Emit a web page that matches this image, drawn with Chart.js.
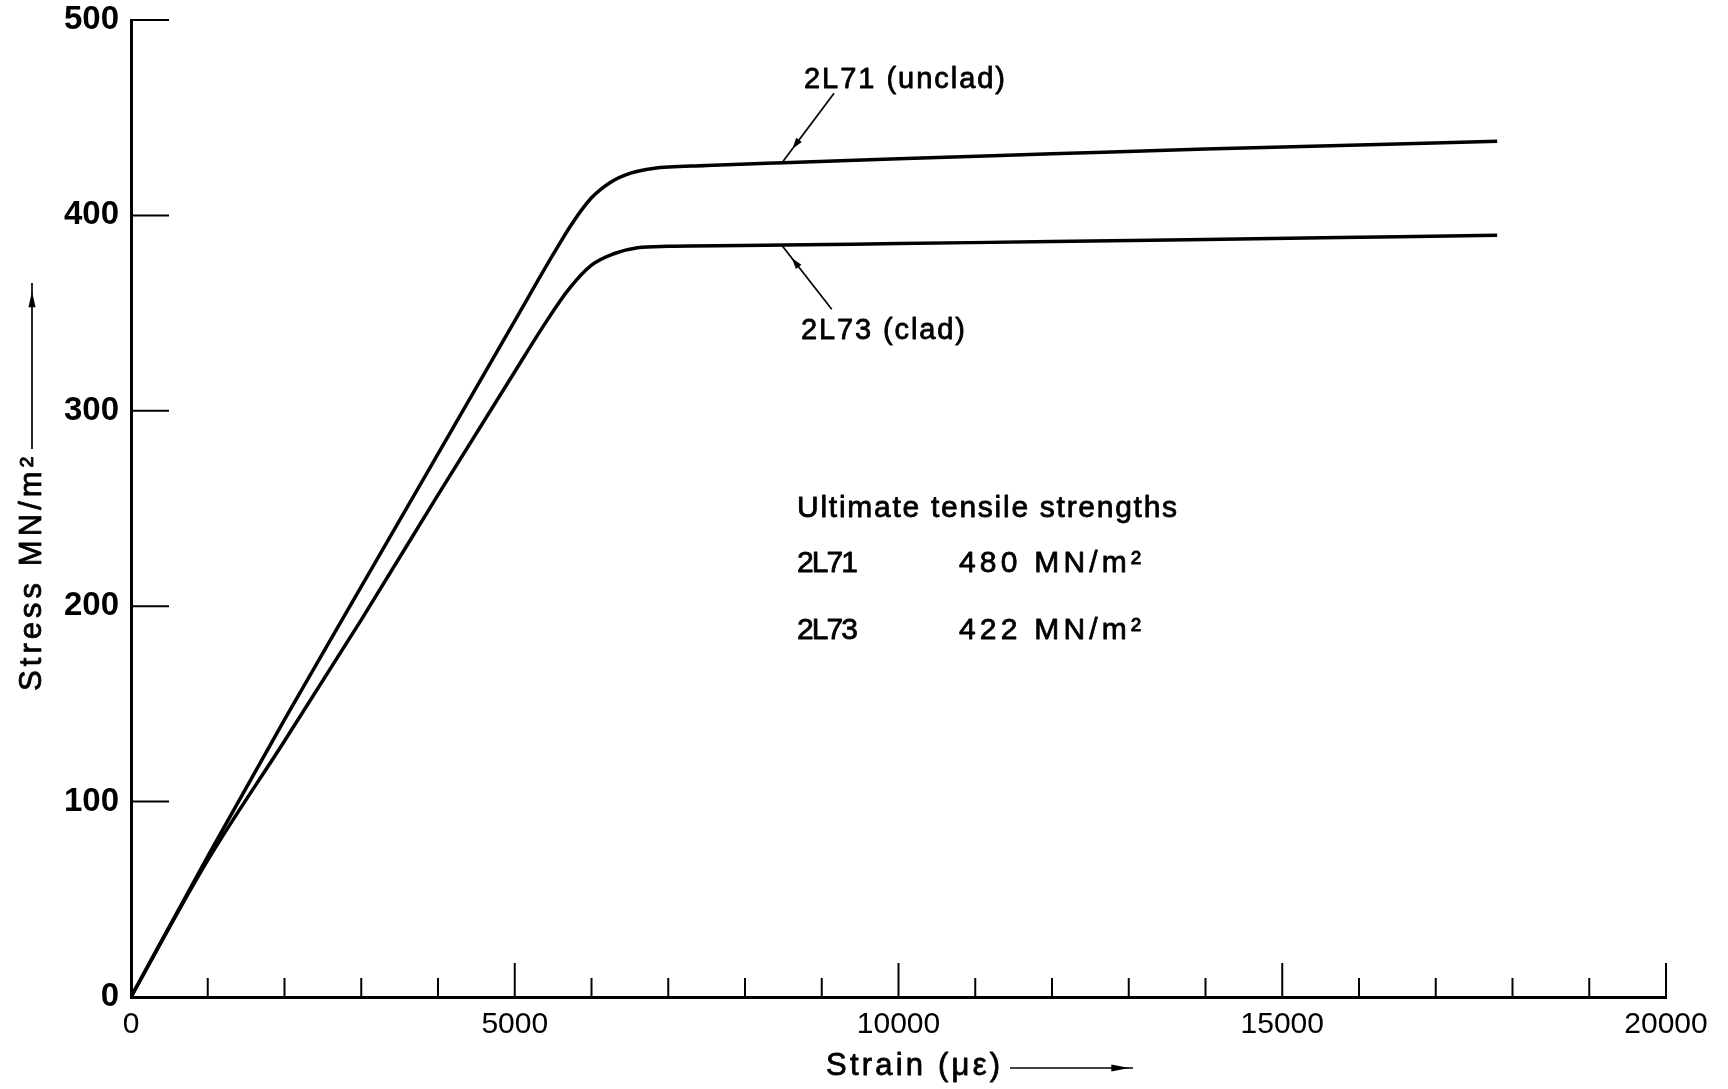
<!DOCTYPE html>
<html>
<head>
<meta charset="utf-8">
<script src="https://cdn.jsdelivr.net/npm/chart.js@4"></script>
<style>
  html, body { margin: 0; padding: 0; background: #fff; }
  #wrap { width: 1728px; height: 1089px; }
</style>
</head>
<body>
<div id="wrap"><canvas id="c" width="1728" height="1089"></canvas></div>
<script>
// ---------- data ----------
const xTickValues = [0, 5000, 10000, 15000, 20000];
const xMinorTicks = [1000,2000,3000,4000,5000,6000,7000,8000,9000,10000,11000,12000,13000,14000,15000,16000,17000,18000,19000,20000];
const yTickValues = [0, 100, 200, 300, 400, 500];

const unclad2L71Strain = [0, 1000, 2000, 3000, 4000, 5000, 5500, 5750, 6000, 6250, 6500, 6800, 7500, 8500, 10000, 12000, 14000, 16000, 17800];
const unclad2L71Stress = [0, 72, 142, 210, 278, 346, 380, 396, 409, 417, 421.5, 424, 425.5, 427, 429, 431.5, 434, 436, 438];

const clad2L73Strain = [0, 1000, 2000, 3000, 4000, 5000, 5400, 5700, 6000, 6300, 6600, 7000, 8500, 10000, 12000, 14000, 16000, 17800];
const clad2L73Stress = [0, 70, 131, 193, 257, 320, 345, 362, 374.5, 380.5, 383.5, 384.2, 384.8, 385.6, 386.6, 387.7, 388.8, 389.8];

const seriesNames = ['2L71 (unclad)', '2L73 (clad)'];
const utsTitle = 'Ultimate tensile strengths';
const utsNames = ['2L71', '2L73'];
const utsValues = ['480 MN/m²', '422 MN/m²'];
const xTitle = 'Strain (με)';
const yTitle = 'Stress MN/m²';

// ---------- helpers ----------
const FONT = '"Liberation Sans", Arial, sans-serif';
function toXY(xs, ys) { return xs.map((x, i) => ({ x: x, y: ys[i] })); }

function fitText(ctx, text, x, y, targetW, size) {
  ctx.font = 'normal ' + size + 'px ' + FONT;
  ctx.letterSpacing = '0px';
  const w = ctx.measureText(text).width;
  const n = Math.max(1, [...text].length - 1);
  const ls = (targetW - w) / n;
  ctx.letterSpacing = ls.toFixed(2) + 'px';
  ctx.lineWidth = 0.8;
  ctx.lineJoin = 'round';
  ctx.fillText(text, x, y);
  ctx.strokeText(text, x, y);
  ctx.letterSpacing = '0px';
}

function arrowHead(ctx, x1, y1, x2, y2, at, len, half) {
  const dx = x2 - x1, dy = y2 - y1, L = Math.hypot(dx, dy);
  const ux = dx / L, uy = dy / L;
  const tx = x1 + dx * at, ty = y1 + dy * at;
  const bx = tx - ux * len, by = ty - uy * len;
  ctx.beginPath();
  ctx.moveTo(tx, ty);
  ctx.lineTo(bx - uy * half, by + ux * half);
  ctx.lineTo(bx + uy * half, by - ux * half);
  ctx.closePath();
  ctx.fill();
}

// ---------- annotations plugin ----------
const decor = {
  id: 'decor',
  afterDraw(chart) {
    const ctx = chart.ctx;
    const xs = chart.scales.x, ys = chart.scales.y;
    const X = v => xs.getPixelForValue(v), Y = v => ys.getPixelForValue(v);
    const a = chart.chartArea;
    ctx.save();
    ctx.strokeStyle = '#000';
    ctx.fillStyle = '#000';
    ctx.lineCap = 'butt';

    // inward y ticks
    ctx.lineWidth = 2;
    yTickValues.filter(v => v > 0).forEach(v => {
      ctx.beginPath();
      ctx.moveTo(a.left, Y(v));
      ctx.lineTo(a.left + 38, Y(v));
      ctx.stroke();
    });
    // inward x ticks
    xMinorTicks.forEach(v => {
      const major = v % 5000 === 0;
      ctx.beginPath();
      ctx.moveTo(X(v), a.bottom);
      ctx.lineTo(X(v), a.bottom - (major ? 34 : 19));
      ctx.stroke();
    });

    // leader arrows
    ctx.lineWidth = 1.7;
    const leaders = [
      { from: [9160, 462.5], to: [8482, 427] },
      { from: [9130, 352], to: [8482, 384.6] }
    ];
    leaders.forEach(l => {
      const x1 = X(l.from[0]), y1 = Y(l.from[1]), x2 = X(l.to[0]), y2 = Y(l.to[1]);
      ctx.beginPath(); ctx.moveTo(x1, y1); ctx.lineTo(x2, y2); ctx.stroke();
      arrowHead(ctx, x1, y1, x2, y2, 0.8, 11, 3.5);
    });

    // series labels
    ctx.textBaseline = 'middle';
    ctx.textAlign = 'left';
    fitText(ctx, seriesNames[0], X(8769), Y(469.5), 201, 29);
    fitText(ctx, seriesNames[1], X(8730), Y(340.8), 164, 29);

    // UTS block
    fitText(ctx, utsTitle, X(8678), Y(249.7), 380, 30);
    fitText(ctx, utsNames[0], X(8678), Y(221.6), 61, 30);
    fitText(ctx, utsValues[0], X(10788), Y(221.6), 182, 30);
    fitText(ctx, utsNames[1], X(8678), Y(187.3), 61, 30);
    fitText(ctx, utsValues[1], X(10788), Y(187.3), 182, 30);

    // x-axis title with arrow
    fitText(ctx, xTitle, 826, 1066, 174, 31);
    ctx.lineWidth = 1.7;
    ctx.beginPath(); ctx.moveTo(1010, 1068); ctx.lineTo(1133, 1068); ctx.stroke();
    arrowHead(ctx, 1010, 1068, 1133, 1068, 0.97, 18, 3.5);

    // y-axis title with arrow (rotated)
    ctx.save();
    ctx.translate(32, 691);
    ctx.rotate(-Math.PI / 2);
    fitText(ctx, yTitle, 0, 0, 234, 31);
    ctx.lineWidth = 1.7;
    ctx.beginPath(); ctx.moveTo(242, 0); ctx.lineTo(408, 0); ctx.stroke();
    arrowHead(ctx, 242, 0, 408, 0, 0.95, 16, 3.5);
    ctx.restore();

    ctx.restore();
  }
};

// ---------- chart ----------
new Chart(document.getElementById('c'), {
  type: 'scatter',
  data: {
    datasets: [
      {
        label: seriesNames[0],
        data: toXY(unclad2L71Strain, unclad2L71Stress),
        showLine: true, borderColor: '#000', borderWidth: 3.5,
        pointRadius: 0, cubicInterpolationMode: 'monotone', fill: false
      },
      {
        label: seriesNames[1],
        data: toXY(clad2L73Strain, clad2L73Stress),
        showLine: true, borderColor: '#000', borderWidth: 3.5,
        pointRadius: 0, cubicInterpolationMode: 'monotone', fill: false
      }
    ]
  },
  options: {
    responsive: false,
    animation: false,
    events: [],
    layout: { padding: { left: 0, right: 62, top: 20, bottom: 0 } },
    plugins: { legend: { display: false }, tooltip: { enabled: false }, title: { display: false } },
    scales: {
      x: {
        type: 'linear', min: 0, max: 20000,
        afterBuildTicks: s => { s.ticks = xTickValues.map(v => ({ value: v })); },
        ticks: { color: '#000', font: { family: FONT, size: 30 }, padding: 10, maxRotation: 0, autoSkip: false,
                 callback: v => String(v) },
        grid: { display: false, drawTicks: false },
        border: { display: true, color: '#000', width: 3 },
        afterFit: s => { s.height = 92; s.paddingLeft = 0; s.paddingRight = 0; }
      },
      y: {
        type: 'linear', min: 0, max: 500,
        afterBuildTicks: s => { s.ticks = yTickValues.map(v => ({ value: v })); },
        ticks: { color: '#000', font: { family: FONT, size: 33, weight: 'bold' }, padding: 12, autoSkip: false,
                 callback: v => String(v) },
        grid: { display: false, drawTicks: false },
        border: { display: true, color: '#000', width: 3 },
        afterFit: s => { s.width = 131; s.paddingTop = 0; s.paddingBottom = 0; }
      }
    }
  },
  plugins: [decor]
});
</script>
</body>
</html>
